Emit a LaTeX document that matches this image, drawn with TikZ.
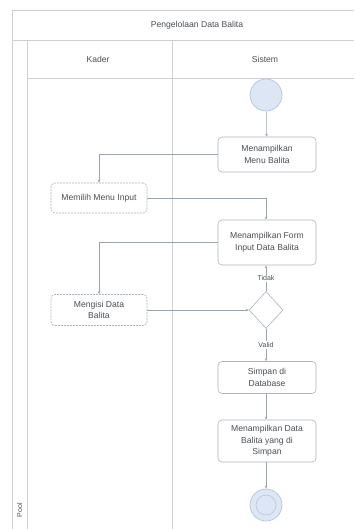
\documentclass[tikz,border=0pt]{standalone}
\usepackage{fontspec}
\setmainfont{Liberation Sans}
\usetikzlibrary{shapes.geometric,arrows.meta}
\definecolor{lanecol}{HTML}{CDD1D6}
\definecolor{edgecol}{HTML}{9AA3AF}
\definecolor{boxcol}{HTML}{AEB5BE}
\definecolor{txtcol}{HTML}{4A4F55}
\definecolor{startfill}{HTML}{DCE6F4}
\definecolor{startdraw}{HTML}{AFC2DC}
\tikzset{
  lane/.style={draw=lanecol, line width=0.8pt},
  sysbox/.style={draw=boxcol, rounded corners=4pt, fill=white, minimum width=98pt, align=center,
    font=\fontsize{8.6}{11.5}\selectfont, text=txtcol, inner sep=2pt, line width=0.6pt},
  userbox/.style={sysbox, dashed, dash pattern=on 2pt off 1pt, minimum width=96pt},
  flow/.style={draw=edgecol, line width=0.5pt, -{Stealth[length=3pt,width=2.5pt]}},
  lbl/.style={font=\fontsize{7}{8.5}\selectfont, text=txtcol},
  head/.style={font=\fontsize{8.6}{10}\selectfont, text=txtcol},
  terminal/.style={circle, fill=startfill, draw=startdraw, line width=0.6pt, minimum size=32pt, inner sep=0pt},
  decide/.style={diamond, draw=boxcol, fill=white, minimum width=34pt, minimum height=37pt, inner sep=0pt, line width=0.6pt}
}
\begin{document}
\begin{tikzpicture}[x=1pt,y=-1pt]
\useasboundingbox (0,0) rectangle (354,529);
\fill[white] (0,0) rectangle (354,529);
% pool and lanes
\draw[lane] (12,10) -- (354,10);
\draw[lane] (12,10) -- (12,529);
\draw[lane] (12,40) -- (354,40);
\draw[lane] (27,40) -- (27,529);
\draw[lane] (27,78) -- (354,78);
\draw[lane] (172,40) -- (172,529);
\node[head] (title) at (197,25) {Pengelolaan Data Balita};
\node[head] (kader) at (98,59) {Kader};
\node[head] (sistem) at (265,59) {Sistem};
\node[lbl, rotate=90] (pool) at (19.5,510) {Pool};
% activities
\node[terminal] (start) at (266,95) {};
\node[sysbox, minimum height=35pt] (menu) at (267,154.5) {Menampilkan\\Menu Balita};
\node[userbox, minimum height=30pt] (pilih) at (99,198) {Memilih Menu Input};
\node[sysbox, minimum height=45pt] (form) at (267,242.5) {Menampilkan Form\\Input Data Balita};
\node[userbox, minimum height=31pt] (isi) at (99,310) {Mengisi Data\\Balita};
\node[decide] (cek) at (266,310) {};
\node[sysbox, minimum height=32pt] (simpan) at (267,377.5) {Simpan di\\Database};
\node[sysbox, minimum height=42pt] (tampil) at (267,441) {Menampilkan Data\\Balita yang di\\Simpan};
\node[terminal] (end) at (266,505) {};
\node[circle, draw=startdraw, line width=0.5pt, minimum size=20pt, inner sep=0pt] (endcore) at (end.center) {};
% connectors
\draw[flow] (start) -- (menu);
\draw[flow] (menu.west) -| (pilih.north);
\draw[flow] (pilih.east) -| (form.north -| cek.north);
\draw[flow] (form.west) -| (isi.north);
\draw[flow] (isi.east) -- (cek.west);
\draw[flow] (cek.north) -- node[lbl, pos=0.5, fill=white, inner sep=1pt] (tidak) {Tidak} (form.south -| cek.north);
\draw[flow] (cek.south) -- node[lbl, pos=0.5, fill=white, inner sep=1pt] (valid) {Valid} (simpan.north -| cek.south);
\draw[flow] (simpan.south -| cek.south) -- (tampil.north -| cek.south);
\draw[flow] (tampil.south -| cek.south) -- (end);
\end{tikzpicture}
\end{document}
